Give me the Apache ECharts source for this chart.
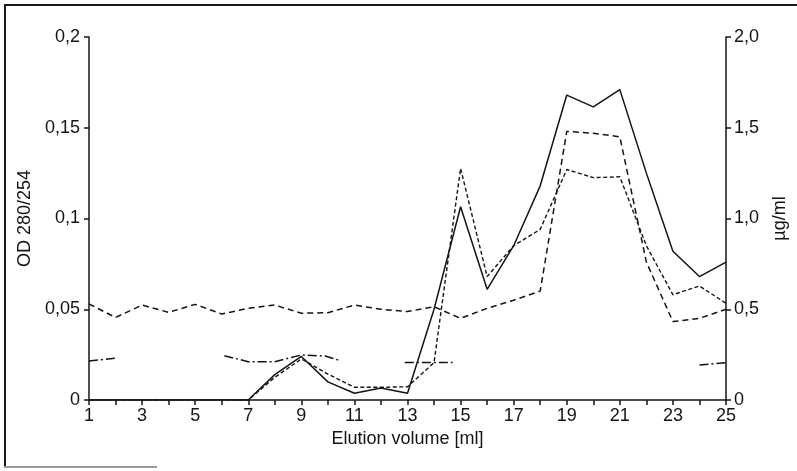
<!DOCTYPE html>
<html>
<head>
<meta charset="utf-8">
<script src="https://cdn.jsdelivr.net/npm/echarts@6/dist/echarts.min.js"></script>
<style>
  html, body { margin: 0; padding: 0; background: #fff; }
  #wrap { position: relative; width: 797px; height: 471px; }
  #chart { position: absolute; left: 0; top: 0; width: 797px; height: 471px; }
  /* Rahmen des gescannten Bildes */
  .frame { position: absolute; left: 4px; top: 4px; width: 793px; height: 462px;
           border-left: 2px solid #1a1a1a; border-top: 2px solid #1a1a1a; }
  .frame-bottom { position: absolute; left: 4px; top: 466px; width: 153px; height: 2px; background: #9a9a9a; }
</style>
</head>
<body>
<div id="wrap">
  <div id="chart"></div>
  <div class="frame"></div>
  <div class="frame-bottom"></div>
</div>
<script>
// Elutionsvolumen (ml)
const volumes = [1, 2, 3, 4, 5, 6, 7, 8, 9, 10, 11, 12, 13, 14, 15, 16, 17, 18, 19, 20, 21, 22, 23, 24, 25]

// durchgezogene Linie
const solidVals  = [0, 0, 0, 0, 0, 0, 0, 0.014, 0.024, 0.010, 0.0037, 0.0066, 0.0037, 0.050, 0.1065, 0.061, 0.085, 0.118, 0.168, 0.1615, 0.171, 0.125, 0.082, 0.068, 0.076]
// kurz gestrichelt
const dottedVals = [0, 0, 0, 0, 0, 0, 0, 0.0125, 0.0226, 0.0143, 0.007, 0.007, 0.0073, 0.0206, 0.1276, 0.068, 0.085, 0.094, 0.127, 0.1225, 0.123, 0.085, 0.058, 0.0628, 0.0533]
// lang gestrichelt
const dashedVals = [0.0529, 0.0455, 0.0523, 0.0483, 0.0527, 0.0474, 0.0505, 0.0523, 0.0478, 0.0481, 0.0523, 0.050, 0.0487, 0.0514, 0.045, 0.0505, 0.055, 0.060, 0.148, 0.147, 0.145, 0.076, 0.0432, 0.045, 0.050]
// Strich-Punkt, mit Lücken
const dashDotX = [1, 1.98, 4, 6.1, 7, 8, 9, 9.9, 10.4, 12, 12.9, 14.7, 20, 24, 25]
const dashDotY = [0.0215, 0.023, null, 0.0244, 0.0211, 0.0211, 0.0248, 0.0242, 0.022, null, 0.0206, 0.0206, null, 0.0193, 0.0206]

const leftTicks  = { min: 0, max: 0.2, interval: 0.05 }
const rightTicks = { min: 0, max: 2.0, interval: 0.5 }

const INK  = '#141414'
const FONT = 'Liberation Sans'

const pairs = vals => volumes.map((x, i) => [x, vals[i]])

const chart = echarts.init(document.getElementById('chart'), null, { renderer: 'canvas' })

const axisCommon = {
  axisLine: { show: true, lineStyle: { color: INK, width: 1.5 } },
  axisTick: { show: true, inside: false, length: 5, lineStyle: { color: INK, width: 1.5 } },
  splitLine: { show: false },
  nameLocation: 'middle',
  nameTextStyle: { color: INK, fontFamily: FONT, fontSize: 18 },
}

chart.setOption({
  animation: false,
  backgroundColor: '#fff',
  grid: { left: 89, right: 68, top: 37, bottom: 71, containLabel: false },
  xAxis: {
    ...axisCommon,
    type: 'value',
    min: 1,
    max: 25,
    interval: 1,
    name: 'Elution volume [ml]',
    nameGap: 28,
    axisLabel: {
      color: INK, fontFamily: FONT, fontSize: 18, margin: 7,
      formatter: v => (v % 2 === 1 ? String(v) : ''),
    },
  },
  yAxis: [
    {
      ...axisCommon,
      type: 'value',
      position: 'left',
      ...leftTicks,
      name: 'OD 280/254',
      nameGap: 51,
      nameRotate: 90,
      axisLabel: {
        color: INK, fontFamily: FONT, fontSize: 18, margin: 9,
        formatter: v => String(parseFloat(v.toFixed(2))).replace('.', ','),
      },
    },
    {
      ...axisCommon,
      type: 'value',
      position: 'right',
      ...rightTicks,
      name: 'µg/ml',
      nameGap: 45,
      nameRotate: 90,
      axisLabel: {
        color: INK, fontFamily: FONT, fontSize: 18, margin: 8,
        formatter: v => (v === 0 ? '0' : v.toFixed(1).replace('.', ',')),
      },
    },
  ],
  series: [
    {
      name: 'dashed', type: 'line', data: pairs(dashedVals), showSymbol: false, symbol: 'none',
      lineStyle: { color: INK, width: 1.5, type: [6, 4] }, z: 2,
    },
    {
      name: 'dotted', type: 'line', data: pairs(dottedVals), showSymbol: false, symbol: 'none',
      lineStyle: { color: INK, width: 1.4, type: [4, 2.5] }, z: 3,
    },
    {
      name: 'solid', type: 'line', data: pairs(solidVals), showSymbol: false, symbol: 'none',
      lineStyle: { color: INK, width: 1.5, type: 'solid' }, z: 4,
    },
    {
      name: 'dashdot', type: 'line', data: dashDotX.map((x, i) => [x, dashDotY[i]]),
      showSymbol: false, symbol: 'none', connectNulls: false,
      lineStyle: { color: INK, width: 1.5, type: [9, 3, 2, 3] }, z: 2,
    },
  ],
})
</script>
</body>
</html>
